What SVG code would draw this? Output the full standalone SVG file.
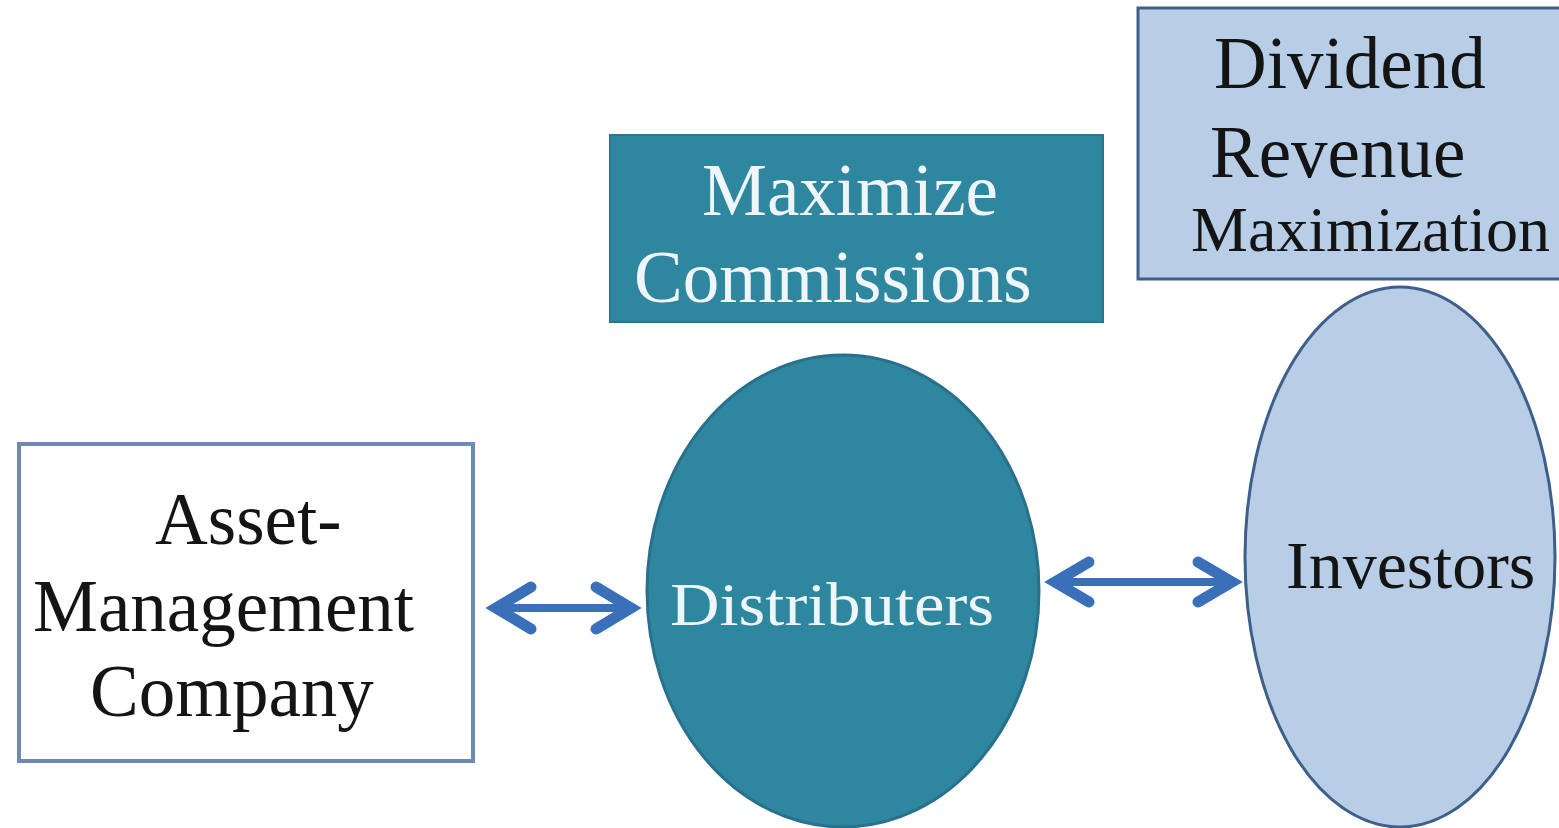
<svg xmlns="http://www.w3.org/2000/svg" width="1559" height="828" viewBox="0 0 1559 828">
  <style>
    text { font-family: 'Liberation Serif', 'Tinos', 'DejaVu Serif', serif; }
    .dark { fill: #141414; }
    .light { fill: #eef6f9; }
    .shaft { fill: none; stroke: #3a6fba; stroke-width: 8; stroke-linecap: butt; }
    .head { fill: none; stroke: #3a6fba; stroke-width: 11; stroke-linecap: round; stroke-linejoin: miter; }
  </style>
  <rect width="1559" height="828" fill="#ffffff"/>

  <!-- Asset-management company -->
  <g id="asset-management">
    <rect x="19" y="444" width="454" height="317" fill="#ffffff" stroke="#6d89b6" stroke-width="4"/>
    <text class="dark" font-family="Liberation Serif" font-size="73" x="155" y="544">Asset-</text>
    <text class="dark" font-family="Liberation Serif" font-size="73" x="33" y="631">Management</text>
    <text class="dark" font-family="Liberation Serif" font-size="73" x="90" y="716">Company</text>
  </g>

  <!-- Distributers -->
  <g id="distributers">
    <ellipse cx="843" cy="591" rx="196" ry="236" fill="#2f869f" stroke="#28708c" stroke-width="3"/>
    <text class="light" font-family="Liberation Serif" font-size="62" x="670" y="625" textLength="324" lengthAdjust="spacingAndGlyphs">Distributers</text>
  </g>

  <!-- Maximize commissions -->
  <g id="maximize-commissions">
    <rect x="610" y="135" width="493" height="187" fill="#2f869f" stroke="#2a7590" stroke-width="2"/>
    <text class="light" font-family="Liberation Serif" font-size="73" x="702" y="215">Maximize</text>
    <text class="light" font-family="Liberation Serif" font-size="73" x="634" y="302">Commissions</text>
  </g>

  <!-- Investors -->
  <g id="investors">
    <ellipse cx="1400" cy="557" rx="155" ry="270" fill="#b8cde6" stroke="#3e5f8a" stroke-width="3"/>
    <text class="dark" font-family="Liberation Serif" font-size="68" x="1286" y="588">Investors</text>
  </g>

  <!-- Dividend revenue maximization -->
  <g id="dividend-revenue">
    <rect x="1138" y="8" width="430" height="271" fill="#b8cde6" stroke="#3e5f8a" stroke-width="3"/>
    <text class="dark" font-family="Liberation Serif" font-size="73" x="1214" y="88">Dividend</text>
    <text class="dark" font-family="Liberation Serif" font-size="73" x="1210" y="177">Revenue</text>
    <text class="dark" font-family="Liberation Serif" font-size="64" x="1191" y="251">Maximization</text>
  </g>

  <!-- Two-way connectors -->
  <g id="connectors">
    <path class="shaft" d="M500 608 H628"/>
    <path class="head" d="M531 587 L496 608 L531 629"/>
    <path class="head" d="M596 587 L631 608 L596 629"/>
    <path class="shaft" d="M1060 582 H1228"/>
    <path class="head" d="M1089 562 L1055 582 L1089 602"/>
    <path class="head" d="M1198 562 L1232 582 L1198 602"/>
  </g>
</svg>
